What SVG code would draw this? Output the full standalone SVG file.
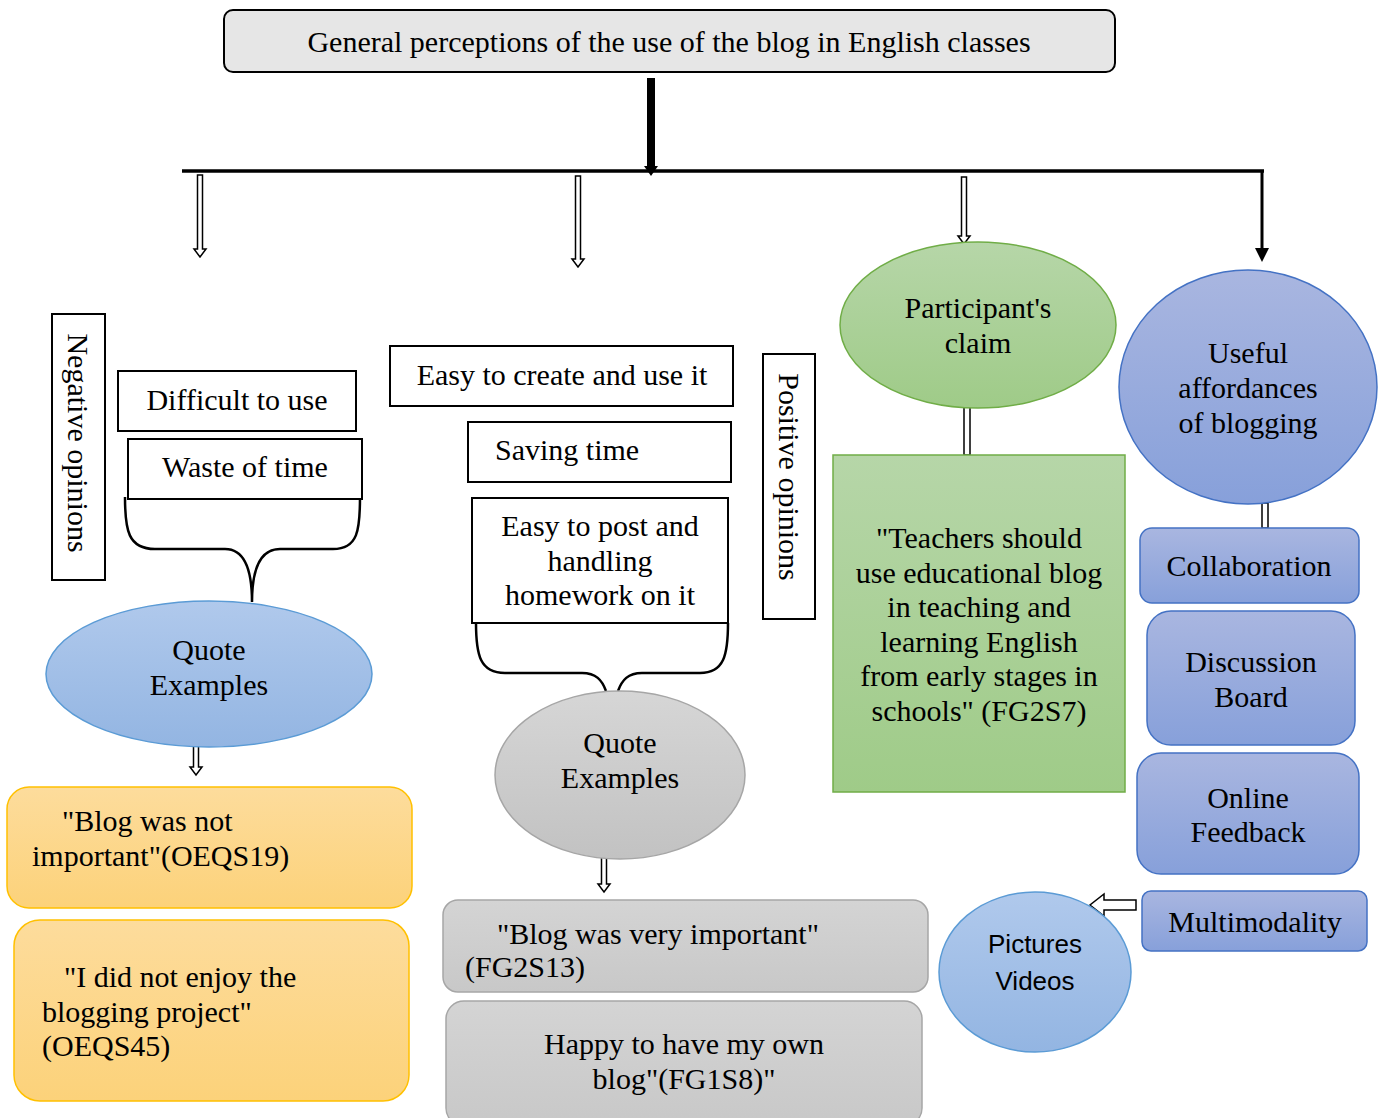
<svg xmlns="http://www.w3.org/2000/svg" width="1387" height="1118" viewBox="0 0 1387 1118">
<defs>
<linearGradient id="gBlue" x1="0" y1="0" x2="0" y2="1"><stop offset="0" stop-color="#b0c9ec"/><stop offset="1" stop-color="#93b5e2"/></linearGradient>
<linearGradient id="gGray" x1="0" y1="0" x2="0" y2="1"><stop offset="0" stop-color="#d6d6d6"/><stop offset="1" stop-color="#c2c2c2"/></linearGradient>
<linearGradient id="gGreen" x1="0" y1="0" x2="0" y2="1"><stop offset="0" stop-color="#b6d6a8"/><stop offset="1" stop-color="#9fcb88"/></linearGradient>
<linearGradient id="gViolet" x1="0" y1="0" x2="0" y2="1"><stop offset="0" stop-color="#a9b6e0"/><stop offset="1" stop-color="#87a0da"/></linearGradient>
<linearGradient id="gOrange" x1="0" y1="0" x2="0" y2="1"><stop offset="0" stop-color="#fddc9c"/><stop offset="1" stop-color="#fcd27a"/></linearGradient>
<linearGradient id="gGrayBox" x1="0" y1="0" x2="0" y2="1"><stop offset="0" stop-color="#d4d4d4"/><stop offset="1" stop-color="#c8c8c8"/></linearGradient>
</defs>
<style>
text{font-family:"Liberation Serif","Times New Roman",serif;font-size:30px;fill:#000}
.c{text-anchor:middle}
.sans{font-family:"Liberation Sans",Arial,sans-serif;font-size:26px}
.box{fill:#fff;stroke:#000;stroke-width:2}
.hollow{fill:#fff;stroke:#000;stroke-width:1.5}
.brace{fill:none;stroke:#000;stroke-width:2.5}
</style>

<g id="connectors">
<rect x="647" y="78" width="8" height="90" fill="#000"/>
<polygon points="644,166 658,166 651,176" fill="#000"/>
<line x1="182" y1="171" x2="1264" y2="171" stroke="#000" stroke-width="3.5"/>
<line x1="1262" y1="171" x2="1262" y2="249" stroke="#000" stroke-width="3"/>
<polygon points="1255,248 1269,248 1262,262" fill="#000"/>
<polygon class="hollow" points="197.5,175 202.5,175 202.5,249 206,249 200,257 194,249 197.5,249"/>
<polygon class="hollow" points="575.5,176 580.5,176 580.5,259 584,259 578,267 572,259 575.5,259"/>
<polygon class="hollow" points="961.5,177 966.5,177 966.5,236 970,236 964,244 958,236 961.5,236"/>
<polygon class="hollow" points="193.5,740 198.5,740 198.5,767 202,767 196,775 190,767 193.5,767"/>
<polygon class="hollow" points="601.5,855 606.5,855 606.5,884 610,884 604,892 598,884 601.5,884"/>
<rect class="hollow" x="964" y="407" width="6" height="48"/>
<rect class="hollow" x="1262" y="503" width="6" height="25"/>
<polygon class="hollow" points="1136,900 1104,900 1104,894 1090,905 1104,916 1104,910 1136,910"/>
<path class="brace" d="M125,497 C125,530 128,549 155,549 L225,549 C245,549 252,570 252,602 C252,570 259,549 280,549 L333,549 C358,549 360,530 360,497"/>
<path class="brace" d="M476,623 C476,655 480,673 505,673 L582,673 C596,673 602,680 606,691"/>
<path class="brace" d="M728,623 C728,655 724,673 700,673 L642,673 C628,673 622,680 618,691"/>
</g>

<g id="title">
<rect x="224" y="10" width="891" height="62" rx="9" fill="#e6e6e6" stroke="#000" stroke-width="2"/>
<text class="c" x="669" y="52">General perceptions of the use of the blog in English classes</text>
</g>

<g id="negative-opinions">
<rect class="box" x="52" y="314" width="53" height="266"/>
<text class="c" transform="translate(78,443) rotate(90)" y="10">Negative opinions</text>
</g>
<g id="difficult">
<rect class="box" x="118" y="371" width="238" height="60"/>
<text class="c" x="237" y="410">Difficult to use</text>
</g>
<g id="waste">
<rect class="box" x="128" y="439" width="234" height="60"/>
<text class="c" x="245" y="477">Waste of time</text>
</g>
<g id="quote-neg">
<ellipse cx="209" cy="674" rx="163" ry="73" fill="url(#gBlue)" stroke="#5b9bd5" stroke-width="1.5"/>
<text class="c" x="209" y="660">Quote</text>
<text class="c" x="209" y="695">Examples</text>
</g>
<g id="quote-neg-1">
<rect x="7" y="787" width="405" height="121" rx="22" fill="url(#gOrange)" stroke="#ffc000" stroke-width="1.5"/>
<text x="62" y="831">"Blog was not</text>
<text x="32" y="866">important"(OEQS19)</text>
</g>
<g id="quote-neg-2">
<rect x="14" y="920" width="395" height="181" rx="26" fill="url(#gOrange)" stroke="#ffc000" stroke-width="1.5"/>
<text x="64" y="987">"I did not enjoy the</text>
<text x="42" y="1022">blogging project"</text>
<text x="42" y="1056">(OEQS45)</text>
</g>

<g id="easy-create">
<rect class="box" x="390" y="346" width="343" height="60"/>
<text class="c" x="562" y="385">Easy to create and use it</text>
</g>
<g id="saving-time">
<rect class="box" x="468" y="422" width="263" height="60"/>
<text x="495" y="460">Saving time</text>
</g>
<g id="easy-post">
<rect class="box" x="472" y="498" width="256" height="125"/>
<text class="c" x="600" y="536">Easy to post and</text>
<text class="c" x="600" y="571">handling</text>
<text class="c" x="600" y="605">homework on it</text>
</g>
<g id="positive-opinions">
<rect class="box" x="763" y="354" width="52" height="265"/>
<text class="c" transform="translate(789,477) rotate(90)" y="10">Positive opinions</text>
</g>
<g id="quote-pos">
<ellipse cx="620" cy="775" rx="125" ry="84" fill="url(#gGray)" stroke="#a6a6a6" stroke-width="1.5"/>
<text class="c" x="620" y="753">Quote</text>
<text class="c" x="620" y="788">Examples</text>
</g>
<g id="quote-pos-1">
<rect x="443" y="900" width="485" height="92" rx="15" fill="url(#gGrayBox)" stroke="#a6a6a6" stroke-width="1.5"/>
<text x="497" y="944">"Blog was very important"</text>
<text x="465" y="977">(FG2S13)</text>
</g>
<g id="quote-pos-2">
<rect x="446" y="1001" width="476" height="125" rx="18" fill="url(#gGrayBox)" stroke="#a6a6a6" stroke-width="1.5"/>
<text class="c" x="684" y="1054">Happy to have my own</text>
<text class="c" x="684" y="1089">blog"(FG1S8)"</text>
</g>

<g id="participant-claim">
<ellipse cx="978" cy="325" rx="138" ry="83" fill="url(#gGreen)" stroke="#70ad47" stroke-width="1.5"/>
<text class="c" x="978" y="318">Participant's</text>
<text class="c" x="978" y="353">claim</text>
</g>
<g id="teachers-quote">
<rect x="833" y="455" width="292" height="337" fill="url(#gGreen)" stroke="#70ad47" stroke-width="1.5"/>
<text class="c" x="979" y="548">"Teachers should</text>
<text class="c" x="979" y="583">use educational blog</text>
<text class="c" x="979" y="617">in teaching and</text>
<text class="c" x="979" y="652">learning English</text>
<text class="c" x="979" y="686">from early stages in</text>
<text class="c" x="979" y="721">schools" (FG2S7)</text>
</g>

<g id="useful-affordances">
<ellipse cx="1248" cy="387" rx="129" ry="117" fill="url(#gViolet)" stroke="#4472c4" stroke-width="1.5"/>
<text class="c" x="1248" y="363">Useful</text>
<text class="c" x="1248" y="398">affordances</text>
<text class="c" x="1248" y="433">of blogging</text>
</g>
<g id="collaboration">
<rect x="1140" y="528" width="219" height="75" rx="12" fill="url(#gViolet)" stroke="#4472c4" stroke-width="1.5"/>
<text class="c" x="1249" y="576">Collaboration</text>
</g>
<g id="discussion-board">
<rect x="1147" y="611" width="208" height="134" rx="24" fill="url(#gViolet)" stroke="#4472c4" stroke-width="1.5"/>
<text class="c" x="1251" y="672">Discussion</text>
<text class="c" x="1251" y="707">Board</text>
</g>
<g id="online-feedback">
<rect x="1137" y="753" width="222" height="121" rx="24" fill="url(#gViolet)" stroke="#4472c4" stroke-width="1.5"/>
<text class="c" x="1248" y="808">Online</text>
<text class="c" x="1248" y="842">Feedback</text>
</g>
<g id="multimodality">
<rect x="1142" y="891" width="225" height="60" rx="9" fill="url(#gViolet)" stroke="#4472c4" stroke-width="1.5"/>
<text class="c" x="1255" y="932">Multimodality</text>
</g>
<g id="pictures-videos">
<ellipse cx="1035" cy="972" rx="96" ry="80" fill="url(#gBlue)" stroke="#5b9bd5" stroke-width="1.5"/>
<text class="c sans" x="1035" y="953">Pictures</text>
<text class="c sans" x="1035" y="990">Videos</text>
</g>
</svg>
